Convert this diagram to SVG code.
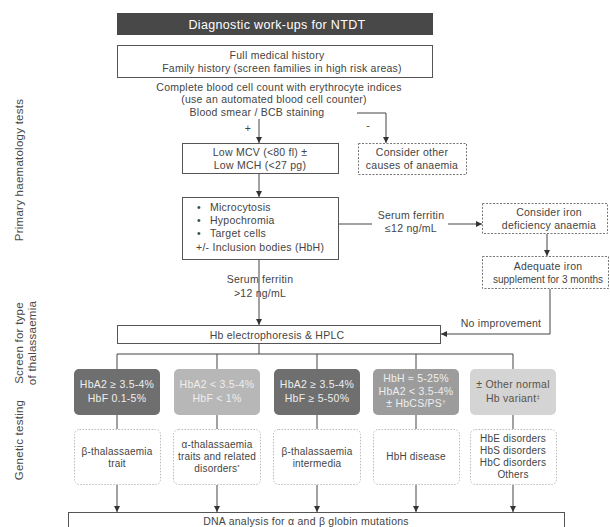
<svg xmlns="http://www.w3.org/2000/svg" width="610" height="527" viewBox="0 0 610 527">
<defs>
<marker id="ah" markerWidth="6" markerHeight="6" refX="6" refY="3" orient="auto" markerUnits="userSpaceOnUse">
<path d="M0,0 L6,3 L0,6 z" fill="#333"/>
</marker>
<style>
text{font-family:"Liberation Sans",Arial,sans-serif;fill:#444;font-size:10.5px;letter-spacing:0.25px}
.c{text-anchor:middle}
.box{fill:#fff;stroke:#555;stroke-width:1}
.dash{fill:#fff;stroke:#777;stroke-width:1;stroke-dasharray:2,1.5}
.dot{fill:#fff;stroke:#bbb;stroke-width:1;stroke-dasharray:1.5,1.5}
.ln{fill:none;stroke:#444;stroke-width:1}
.ar{fill:none;stroke:#444;stroke-width:1;marker-end:url(#ah)}
.w{fill:#eeeeee}
.side{font-size:11.5px;fill:#4a4a4a}
.sm{font-size:10px;letter-spacing:0.2px}
</style>
</defs>
<rect width="610" height="527" fill="#fff"/>

<g id="side-labels">
<text class="c side" transform="translate(23,170) rotate(-90)">Primary haematology tests</text>
<text class="c side" transform="translate(23,343) rotate(-90)">Screen for type</text>
<text class="c side" transform="translate(36,343) rotate(-90)">of thalassaemia</text>
<text class="c side" transform="translate(23,440) rotate(-90)">Genetic testing</text>
</g>

<g id="connectors">
<line class="ar" x1="259" y1="119" x2="259" y2="143"/>
<polyline class="ar" points="357,113 386,113 386,143"/>
<line class="ar" x1="259" y1="174" x2="259" y2="197"/>
<line class="ln" x1="339" y1="224" x2="372" y2="224"/>
<line class="ar" x1="448" y1="224" x2="482" y2="224"/>
<line class="ar" x1="547" y1="234" x2="547" y2="256"/>
<line class="ar" x1="259" y1="260" x2="259" y2="325"/>
<polyline class="ar" points="550,289 550,334 441,334"/>
<line class="ln" x1="259" y1="344" x2="259" y2="354"/>
<line class="ln" x1="117" y1="354" x2="513" y2="354"/>
<line class="ln" x1="117" y1="354" x2="117" y2="369"/>
<line class="ln" x1="217" y1="354" x2="217" y2="369"/>
<line class="ln" x1="317" y1="354" x2="317" y2="369"/>
<line class="ln" x1="416" y1="354" x2="416" y2="369"/>
<line class="ln" x1="513" y1="354" x2="513" y2="369"/>
<line class="ln" x1="117" y1="415" x2="117" y2="429"/>
<line class="ln" x1="217" y1="415" x2="217" y2="429"/>
<line class="ln" x1="317" y1="415" x2="317" y2="429"/>
<line class="ln" x1="416" y1="415" x2="416" y2="429"/>
<line class="ln" x1="513" y1="415" x2="513" y2="429"/>
<line class="ar" x1="117" y1="485" x2="117" y2="512"/>
<line class="ar" x1="217" y1="485" x2="217" y2="512"/>
<line class="ar" x1="317" y1="485" x2="317" y2="512"/>
<line class="ar" x1="416" y1="485" x2="416" y2="512"/>
<line class="ar" x1="513" y1="485" x2="513" y2="512"/>
<text class="c" x="248" y="132">+</text>
<text class="c" x="368" y="129">-</text>
<text class="c" x="411" y="219">Serum ferritin</text>
<text class="c" x="411" y="232">≤12 ng/mL</text>
<text class="c" x="260" y="283">Serum ferritin</text>
<text class="c" x="260" y="297">&gt;12 ng/mL</text>
<text class="c" x="501" y="327">No improvement</text>
</g>

<g id="title">
<rect x="117" y="13" width="316" height="22" fill="#484848"/>
<text class="c" x="277" y="28.5" style="font-size:12.5px;letter-spacing:0.35px;fill:#fff">Diagnostic work-ups for NTDT</text>
</g>

<g id="history">
<rect class="box" x="117.5" y="45.5" width="315" height="32"/>
<text class="c" x="277" y="59">Full medical history</text>
<text class="c" x="282" y="72">Family history (screen families in high risk areas)</text>
</g>

<g id="cbc">
<text class="c" x="279" y="91">Complete blood cell count with erythrocyte indices</text>
<text class="c" x="274" y="103">(use an automated blood cell counter)</text>
<text class="c" x="257" y="116">Blood smear / BCB staining</text>
</g>

<g id="low-mcv">
<rect class="box" x="182.5" y="143.5" width="156" height="30"/>
<text class="c" x="260" y="156">Low MCV (&lt;80 fl) ±</text>
<text class="c" x="260" y="169">Low MCH (&lt;27 pg)</text>
</g>

<g id="other-causes">
<rect class="dash" x="358.5" y="143.5" width="108" height="31"/>
<text class="c" x="412" y="156">Consider other</text>
<text class="c" x="412" y="169">causes of anaemia</text>
</g>

<g id="morphology">
<rect class="box" x="182.5" y="197.5" width="156" height="62"/>
<text x="197" y="211">•</text><text x="210" y="211">Microcytosis</text>
<text x="197" y="224">•</text><text x="210" y="224">Hypochromia</text>
<text x="197" y="237">•</text><text x="210" y="237">Target cells</text>
<text x="196" y="251">+/- Inclusion bodies (HbH)</text>
</g>

<g id="iron-deficiency">
<rect class="dash" x="482.5" y="203.5" width="125" height="30"/>
<text class="c" x="549" y="216">Consider iron</text>
<text class="c" x="549" y="229">deficiency anaemia</text>
</g>

<g id="iron-supplement">
<rect class="dash" x="482.5" y="256.5" width="126" height="32"/>
<text class="c" x="548" y="270">Adequate iron</text>
<text class="c" x="548" y="283" style="font-size:10px;letter-spacing:0px">supplement for 3 months</text>
</g>

<g id="hplc">
<rect class="box" x="117.5" y="325.5" width="323" height="18"/>
<text class="c" x="277" y="338.5">Hb electrophoresis &amp; HPLC</text>
</g>

<g id="res-beta-trait">
<rect x="74" y="369" width="86" height="46" rx="5" fill="#6f6f6f"/>
<text class="c w" x="117" y="388">HbA2 ≥ 3.5-4%</text>
<text class="c w" x="117" y="402">HbF 0.1-5%</text>
</g>
<g id="res-alpha">
<rect x="174" y="369" width="86" height="46" rx="5" fill="#b7b7b7"/>
<text class="c w" x="217" y="388">HbA2 &lt; 3.5-4%</text>
<text class="c w" x="217" y="402">HbF &lt; 1%</text>
</g>
<g id="res-beta-int">
<rect x="274" y="369" width="86" height="46" rx="5" fill="#6f6f6f"/>
<text class="c w" x="317" y="388">HbA2 ≥ 3.5-4%</text>
<text class="c w" x="317" y="402">HbF ≥ 5-50%</text>
</g>
<g id="res-hbh">
<rect x="373" y="369" width="86" height="46" rx="5" fill="#9c9c9c"/>
<text class="c w" x="416" y="382">HbH ≈ 5-25%</text>
<text class="c w" x="416" y="394.5">HbA2 &lt; 3.5-4%</text>
<text class="c w" x="416" y="407">± HbCS/PS<tspan dy="-3" style="font-size:6px">†</tspan></text>
</g>
<g id="res-variant">
<rect x="470" y="369" width="86" height="46" rx="5" fill="#d4d4d4"/>
<text class="c" x="513" y="388" style="fill:#5a5248">± Other normal</text>
<text class="c" x="513" y="402" style="fill:#5a5248">Hb variant<tspan dy="-3" style="font-size:6px">‡</tspan></text>
</g>

<g id="dx-beta-trait">
<rect class="dot" x="74.5" y="429.5" width="86" height="55" rx="5"/>
<text class="c sm" x="117" y="455">β-thalassaemia</text>
<text class="c sm" x="117" y="467">trait</text>
</g>
<g id="dx-alpha">
<rect class="dot" x="173.5" y="429.5" width="87" height="55" rx="5"/>
<text class="c sm" x="217" y="448">α-thalassaemia</text>
<text class="c sm" x="217" y="460">traits and related</text>
<text class="c sm" x="217" y="472">disorders<tspan dy="-3" style="font-size:6px">*</tspan></text>
</g>
<g id="dx-beta-int">
<rect class="dot" x="273.5" y="429.5" width="87" height="55" rx="5"/>
<text class="c sm" x="317" y="455">β-thalassaemia</text>
<text class="c sm" x="317" y="467">intermedia</text>
</g>
<g id="dx-hbh">
<rect class="dot" x="373.5" y="429.5" width="86" height="55" rx="5"/>
<text class="c sm" x="416" y="460">HbH disease</text>
</g>
<g id="dx-variants">
<rect class="dot" x="470.5" y="429.5" width="86" height="55" rx="5"/>
<text class="c sm" x="513" y="442">HbE disorders</text>
<text class="c sm" x="513" y="454">HbS disorders</text>
<text class="c sm" x="513" y="466">HbC disorders</text>
<text class="c sm" x="513" y="478">Others</text>
</g>

<g id="dna">
<rect class="box" x="68.5" y="512.5" width="496" height="30"/>
<text class="c" x="306" y="524.5">DNA analysis for α and β globin mutations</text>
</g>
</svg>
